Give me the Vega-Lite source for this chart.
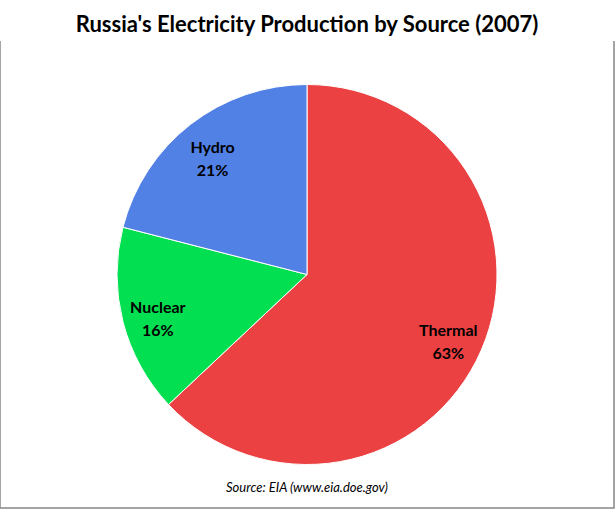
{
  "$schema": "https://vega.github.io/schema/vega-lite/v6.json",
  "width": 615,
  "height": 509,
  "autosize": {"type": "fit", "contains": "padding"},
  "padding": {"top": 14, "left": 0, "right": 1, "bottom": 1},
  "background": "white",
  "title": {
    "text": "Russia's Electricity Production by Source (2007)",
    "font": "Lato",
    "fontSize": 22,
    "fontWeight": "bold",
    "color": "#000000",
    "anchor": "middle",
    "offset": 4
  },
  "view": {
    "stroke": "#868686",
    "strokeWidth": 1.5,
    "fill": "white",
    "strokeDash": [0, 614, 3000]
  },
  "data": {
    "values": [
      {"source": "Thermal", "share": 63, "label": "Thermal\n63%", "order": 1},
      {"source": "Nuclear", "share": 16, "label": "Nuclear\n16%", "order": 2},
      {"source": "Hydro", "share": 21, "label": "Hydro\n21%", "order": 3}
    ]
  },
  "encoding": {
    "theta": {"field": "share", "type": "quantitative", "stack": true},
    "order": {"field": "order", "type": "quantitative"}
  },
  "layer": [
    {
      "mark": {"type": "arc", "outerRadius": 190, "stroke": "white", "strokeWidth": 1},
      "encoding": {
        "color": {
          "field": "source",
          "type": "nominal",
          "scale": {
            "domain": ["Thermal", "Nuclear", "Hydro"],
            "range": ["#ec4142", "#02df50", "#5281e6"]
          },
          "legend": null
        }
      }
    },
    {
      "mark": {
        "type": "text",
        "radius": 154,
        "dy": -5,
        "font": "Lato",
        "fontSize": 16,
        "fontWeight": "bold",
        "color": "#000000",
        "lineBreak": "\n",
        "lineHeight": 23
      },
      "encoding": {
        "text": {"field": "label", "type": "nominal"}
      }
    },
    {
      "data": {"values": [{"note": "Source: EIA (www.eia.doe.gov)"}]},
      "mark": {
        "type": "text",
        "theta": 3.14159,
        "radius": 213,
        "font": "Lato",
        "fontSize": 13,
        "fontStyle": "italic",
        "color": "#000000"
      },
      "encoding": {
        "theta": null,
        "order": null,
        "text": {"field": "note", "type": "nominal"}
      }
    }
  ]
}
